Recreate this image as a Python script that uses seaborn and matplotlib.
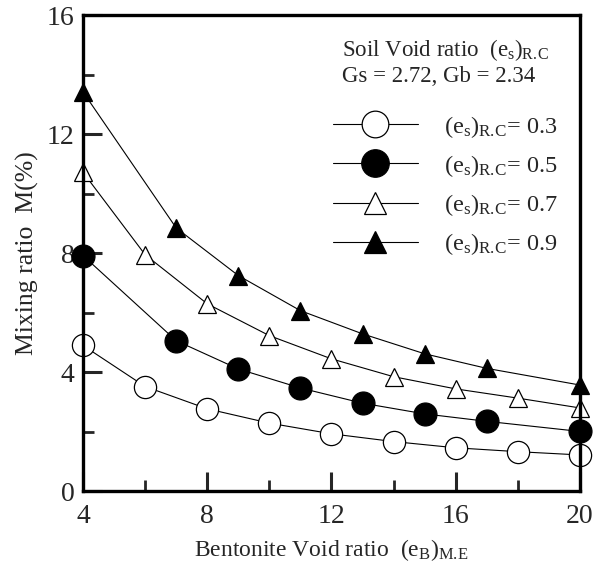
import matplotlib
matplotlib.use("Agg")
import matplotlib.pyplot as plt
import seaborn as sns
import pandas as pd
from matplotlib.ticker import MultipleLocator

sns.set_theme(style="white")
plt.rcParams['font.family'] = ['Liberation Serif', 'DejaVu Serif']
plt.rcParams['mathtext.fontset'] = 'custom'
plt.rcParams['mathtext.rm'] = 'Liberation Serif'
plt.rcParams['mathtext.it'] = 'Liberation Serif:italic'

# Data
x_03 = [4, 6, 8, 10, 12, 14, 16, 18, 20]
m_03 = [4.90, 3.52, 2.77, 2.29, 1.93, 1.67, 1.46, 1.33, 1.22]
x_05 = [4, 7, 9, 11, 13, 15, 17, 20]
m_05 = [7.92, 5.06, 4.11, 3.47, 2.96, 2.60, 2.35, 2.01]
x_07 = [4, 6, 8, 10, 12, 14, 16, 18, 20]
m_07 = [10.72, 7.95, 6.30, 5.23, 4.45, 3.85, 3.44, 3.13, 2.80]
x_09 = [4, 7, 9, 11, 13, 15, 17, 20]
m_09 = [13.42, 8.85, 7.25, 6.07, 5.29, 4.62, 4.13, 3.57]
es_labels = ["0.3", "0.5", "0.7", "0.9"]

series = [(x_03, m_03), (x_05, m_05), (x_07, m_07), (x_09, m_09)]
rows = []
for lab, (xs, ms) in zip(es_labels, series):
    for xv, mv in zip(xs, ms):
        rows.append({"es": lab, "eB": xv, "M": mv})
df = pd.DataFrame(rows)

styles = {
    "0.3": dict(marker="o", markerfacecolor="white", markersize=16),
    "0.5": dict(marker="o", markerfacecolor="black", markersize=16.5),
    "0.7": dict(marker="^", markerfacecolor="white", markersize=13),
    "0.9": dict(marker="^", markerfacecolor="black", markersize=13),
}

fig = plt.figure(figsize=(5.93, 5.64), dpi=100)
ax = fig.add_axes([0.140, 0.129, 0.838, 0.844])

RC = r"_{\mathrm{R.\!C}}"
for lab in es_labels:
    sub = df[df["es"] == lab]
    st = styles[lab]
    sns.lineplot(data=sub, x="eB", y="M", ax=ax, color="black", linewidth=0.8,
                 marker=st["marker"], markersize=st["markersize"],
                 markerfacecolor=st["markerfacecolor"], markeredgecolor="black",
                 markeredgewidth=0.9, clip_on=False,
                 label=r"$(\mathrm{e}_{\mathrm{s}})" + RC + r"$= " + lab)

ax.set_xlim(4, 20)
ax.set_ylim(0, 16)
ax.xaxis.set_major_locator(MultipleLocator(4))
ax.xaxis.set_minor_locator(MultipleLocator(2))
ax.yaxis.set_major_locator(MultipleLocator(4))
ax.yaxis.set_minor_locator(MultipleLocator(2))
ax.tick_params(which="major", direction="in", length=14, width=2.2,
               labelsize=20, pad=6, bottom=True, left=True, top=False, right=False)
ax.tick_params(axis="x", which="major", pad=9)
ax.tick_params(which="minor", direction="in", length=8, width=2.0,
               bottom=True, left=True, top=False, right=False)
for sp in ax.spines.values():
    sp.set_linewidth(2.4)
    sp.set_color("black")

ax.set_xlabel(r"Bentonite Void ratio  $(\mathrm{e}_{\mathrm{B}})_{\mathrm{M.\!E}}$",
              fontsize=17, labelpad=6)
ax.set_ylabel("Mixing ratio  M(%)", fontsize=18.5, labelpad=6)

leg = ax.legend(title=r"Soil Void ratio  $(\mathrm{e}_{\mathrm{s}})" + RC + "$\nGs = 2.72, Gb = 2.34",
                loc="upper right", frameon=False, fontsize=17.5, title_fontsize=16.5,
                handlelength=3.5, markerscale=1.2, labelspacing=0.55,
                borderaxespad=0.5, handletextpad=1.1)
leg._legend_box.sep = 19

fig.savefig("out.png", dpi=100)
